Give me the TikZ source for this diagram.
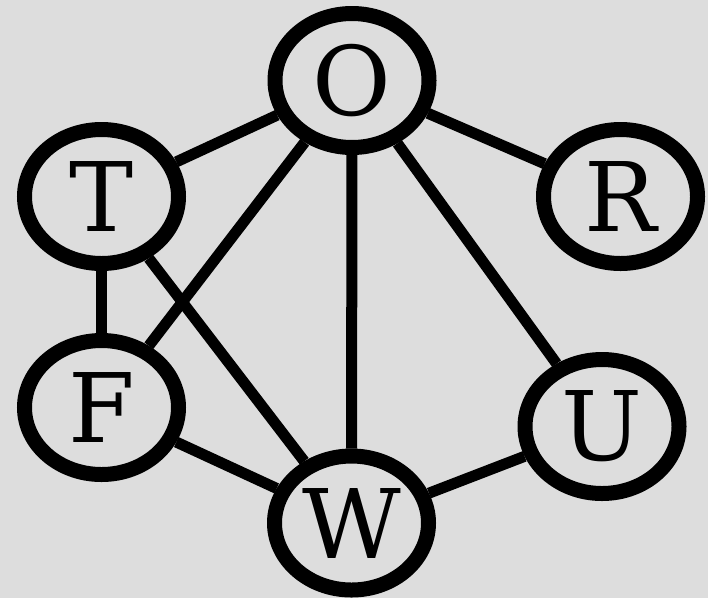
\documentclass[tikz,border=0pt]{standalone}
\usepackage{fontspec}
\setmainfont{DejaVu Serif}
\usetikzlibrary{shapes.geometric}
\definecolor{bggray}{RGB}{221,221,221}
\begin{document}
\begin{tikzpicture}[x=1pt, y=-1pt,
        vert/.style={draw, ellipse, line width=15pt, minimum width=154pt, minimum height=134pt, inner sep=0pt, font=\fontsize{96}{96}\selectfont},
        link/.style={line width=11pt}]
        \fill[bggray] (0,0) rectangle (708,598);
        \useasboundingbox (0,0) rectangle (708,598);

        \node[vert] (O) at (352,80.5) {O};
        \node[vert] (T) at (101.5,196.5) {T};
        \node[vert] (R) at (620.5,196.5) {R};
        \node[vert] (F) at (101.5,407.5) {F};
        \node[vert] (U) at (602,426.5) {U};
        \node[vert] (W) at (351.5,523) {W};

        \draw[link] (T) -- (O);
        \draw[link] (O) -- (R);
        \draw[link] (O) -- (F);
        \draw[link] (O) -- (W);
        \draw[link] (O) -- (U);
        \draw[link] (T) -- (F);
        \draw[link] (T) -- (W);
        \draw[link] (F) -- (W);
        \draw[link] (W) -- (U);
    \end{tikzpicture}
\end{document}
